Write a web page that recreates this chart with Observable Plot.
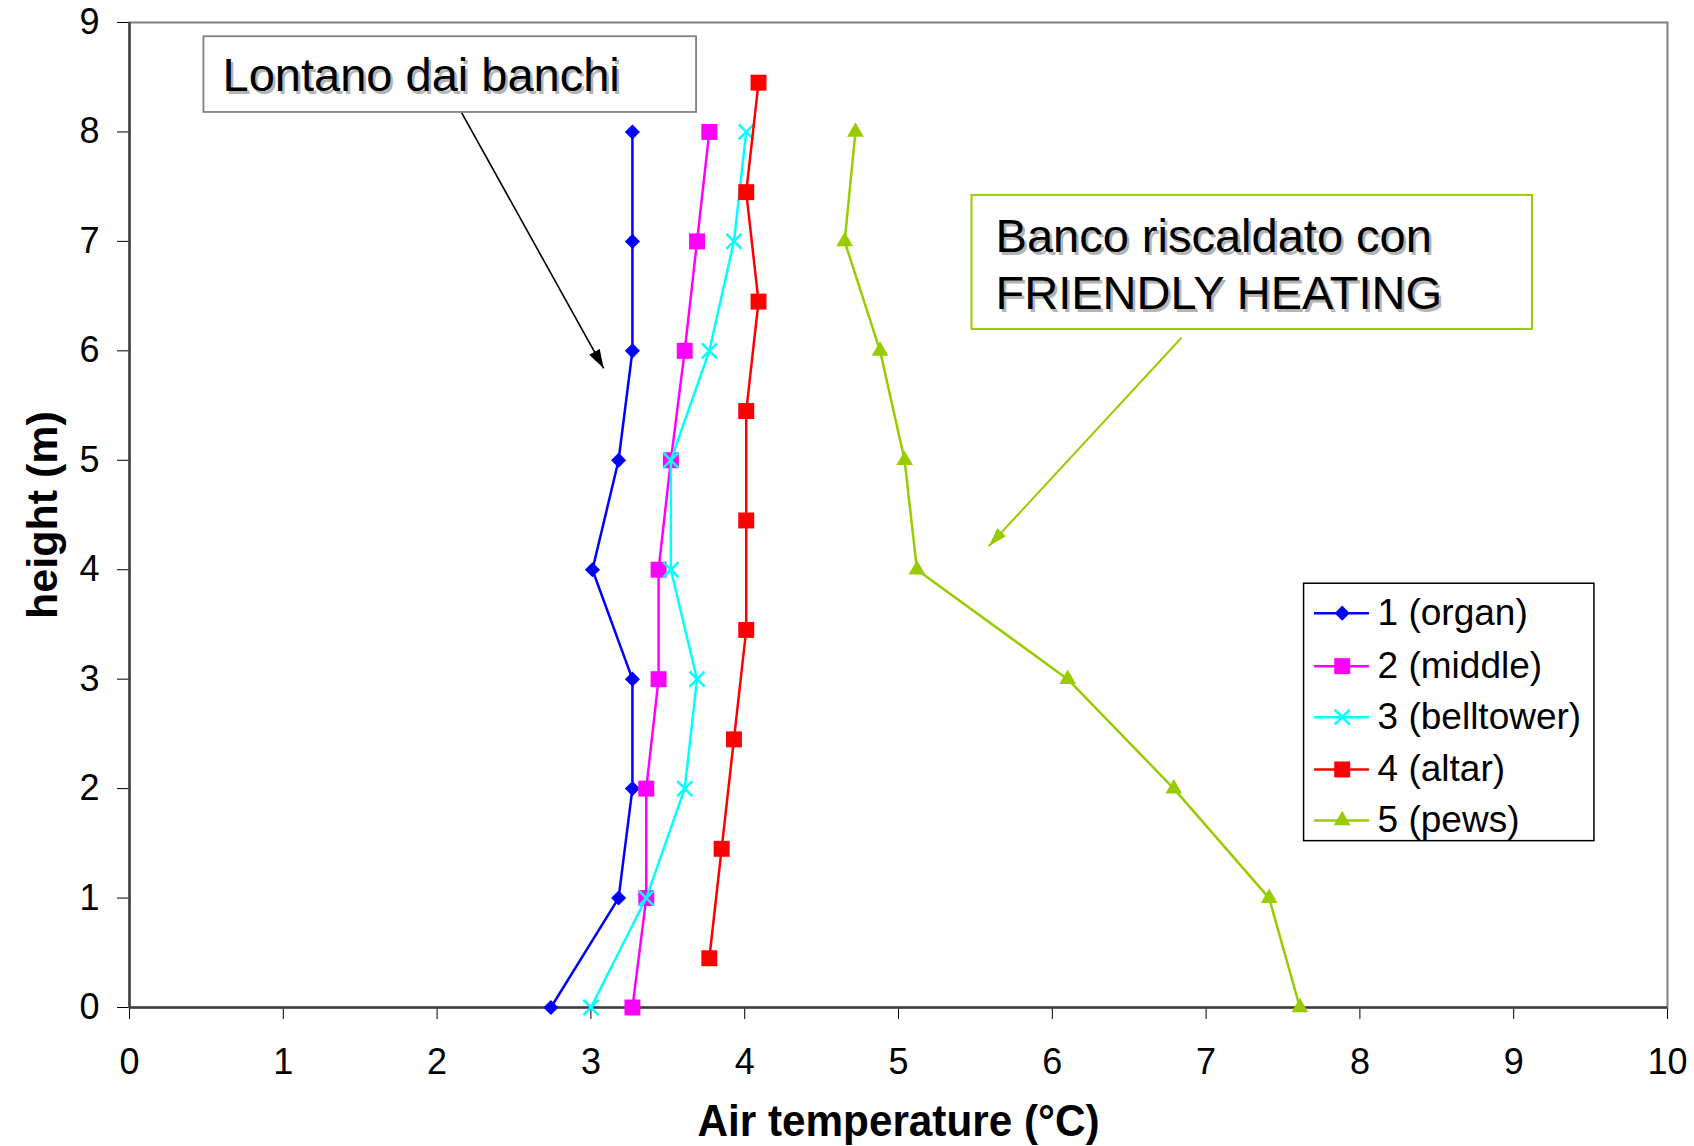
<!DOCTYPE html>
<html>
<head>
<meta charset="utf-8">
<script src="https://cdn.jsdelivr.net/npm/d3@7"></script>
<script src="https://cdn.jsdelivr.net/npm/@observablehq/plot@0.6"></script>
<style>
  html, body { margin: 0; padding: 0; background: #ffffff; }
  #chart { width: 1694px; height: 1146px; }
</style>
</head>
<body>
<div id="chart"></div>
<script>
// ---------------- data ----------------
const heights = [0, 1, 2, 3, 4, 5, 6, 7, 8];
const altarHeights = [0.45, 1.45, 2.45, 3.45, 4.45, 5.45, 6.45, 7.45, 8.45];
const organ = [2.74, 3.18, 3.27, 3.27, 3.01, 3.18, 3.27, 3.27, 3.27];
const middle = [3.27, 3.36, 3.36, 3.44, 3.44, 3.52, 3.61, 3.69, 3.77];
const belltower = [3.00, 3.36, 3.61, 3.69, 3.52, 3.52, 3.77, 3.93, 4.01];
const altar = [3.77, 3.85, 3.93, 4.01, 4.01, 4.01, 4.09, 4.01, 4.09];
const pews = [7.61, 7.41, 6.79, 6.10, 5.12, 5.04, 4.88, 4.65, 4.72];
const seriesNames = ["1 (organ)", "2 (middle)", "3 (belltower)", "4 (altar)", "5 (pews)"];
const xTicks = [0, 1, 2, 3, 4, 5, 6, 7, 8, 9, 10];
const yTicks = [0, 1, 2, 3, 4, 5, 6, 7, 8, 9];
const xTitle = "Air temperature (°C)";
const yTitle = "height (m)";
const note1Text = ["Lontano dai banchi"];
const note2Text = ["Banco riscaldato con", "FRIENDLY HEATING"];

// ---------------- styles / layout ----------------
const FONT = "'Liberation Sans', Arial, Helvetica, sans-serif";
const seriesStyles = [
  {color: "#0000ff", symbol: "diamond2", r: 6.8, filled: true},
  {color: "#ff00ff", symbol: "square", r: 9, filled: true},
  {color: "#00ffff", symbol: "times", r: 6.9, filled: false},
  {color: "#ff0000", symbol: "square", r: 9, filled: true},
  {color: "#99cc00", symbol: "triangle", r: 6.2, filled: true}
];
const seriesValues = [organ, middle, belltower, altar, pews];
const seriesHeights = [heights, heights, heights, altarHeights, heights];

// annotation placement in data units
const note1Box = {x1: 0.484, x2: 3.687, y1: 8.178, y2: 8.87};
const note1Lines = note1Text.map((t) => ({t, x: 0.605, y: 8.374}));
const note2Box = {x1: 5.478, x2: 9.122, y1: 6.195, y2: 7.42};
const note2Lines = note2Text.map((t, i) => ({t, x: 5.631, y: [6.899, 6.378][i]}));
const arrow1 = {x1: 2.16, y1: 8.175, x2: 3.083, y2: 5.84};
const arrow2 = {x1: 6.84, y1: 6.12, x2: 5.587, y2: 4.215};

const legendBox = {x1: 7.637, x2: 9.525, y1: 1.52, y2: 3.872};
const legendRowY = [3.603, 3.119, 2.653, 2.175, 1.709];
const legendRows = seriesNames.map((name, i) => ({
  name, i, y: legendRowY[i], lx1: 7.705, lx2: 8.062, mx: 7.885, tx: 8.115
}));

// axis-title anchors (data units; y title sits left of the frame)
const yTitleAnchor = [{t: yTitle, x: -0.56, y: 4.5}];

// ---------------- table ----------------
const table = seriesNames.flatMap((name, i) =>
  seriesValues[i].map((t, j) => ({series: name, i, t, h: seriesHeights[i][j]}))
);

// ---------------- marks ----------------
const marks = [
  Plot.frame({stroke: "#808080", strokeWidth: 2}),
  Plot.ruleX([0], {stroke: "#404040", strokeWidth: 2.5}),
  Plot.ruleY([0], {stroke: "#404040", strokeWidth: 2.5})
];

seriesNames.forEach((name, i) => {
  const s = seriesStyles[i];
  const d = table.filter(r => r.i === i);
  marks.push(Plot.line(d, {x: "t", y: "h", stroke: s.color, strokeWidth: 2.5}));
  marks.push(Plot.dot(d, s.filled
    ? {x: "t", y: "h", symbol: () => s.symbol, r: s.r, fill: s.color, stroke: "none"}
    : {x: "t", y: "h", symbol: () => s.symbol, r: s.r, fill: "none", stroke: s.color, strokeWidth: 2.5}));
});

// annotation 1
marks.push(Plot.rect([note1Box], {x1: "x1", x2: "x2", y1: "y1", y2: "y2", fill: "white", stroke: "#808080", strokeWidth: 1.8}));
marks.push(Plot.text(note1Lines, {x: "x", y: "y", text: "t", textAnchor: "start", lineAnchor: "bottom", fontSize: 47, fill: "#b4b4b4", dx: 2.5, dy: 2.5}));
marks.push(Plot.text(note1Lines, {x: "x", y: "y", text: "t", textAnchor: "start", lineAnchor: "bottom", fontSize: 47, fill: "black"}));
marks.push(Plot.link([arrow1], {x1: "x1", y1: "y1", x2: "x2", y2: "y2", stroke: "black", strokeWidth: 1.6}));

// annotation 2
marks.push(Plot.rect([note2Box], {x1: "x1", x2: "x2", y1: "y1", y2: "y2", fill: "white", stroke: "#99cc00", strokeWidth: 2}));
marks.push(Plot.text(note2Lines, {x: "x", y: "y", text: "t", textAnchor: "start", lineAnchor: "bottom", fontSize: 47, fill: "#b4b4b4", dx: 2.5, dy: 2.5}));
marks.push(Plot.text(note2Lines, {x: "x", y: "y", text: "t", textAnchor: "start", lineAnchor: "bottom", fontSize: 47, fill: "black"}));
marks.push(Plot.link([arrow2], {x1: "x1", y1: "y1", x2: "x2", y2: "y2", stroke: "#99cc00", strokeWidth: 2}));

// legend
marks.push(Plot.rect([legendBox], {x1: "x1", x2: "x2", y1: "y1", y2: "y2", fill: "white", stroke: "black", strokeWidth: 1.5}));
legendRows.forEach((row) => {
  const s = seriesStyles[row.i];
  marks.push(Plot.ruleY([row], {y: "y", x1: "lx1", x2: "lx2", stroke: s.color, strokeWidth: 2.5}));
  marks.push(Plot.dot([row], s.filled
    ? {x: "mx", y: "y", symbol: () => s.symbol, r: s.r, fill: s.color, stroke: "none"}
    : {x: "mx", y: "y", symbol: () => s.symbol, r: s.r, fill: "none", stroke: s.color, strokeWidth: 2.5}));
});
marks.push(Plot.text(legendRows, {x: "tx", y: "y", text: "name", textAnchor: "start", lineAnchor: "middle", fontSize: 37, fill: "black"}));

// axis titles
marks.push(Plot.text([xTitle], {frameAnchor: "bottom", text: d => d, dy: 128, lineAnchor: "bottom", fontSize: 45, fontWeight: "bold", fill: "black"}));
marks.push(Plot.text(yTitleAnchor, {x: "x", y: "y", text: "t", rotate: -90, textAnchor: "middle", lineAnchor: "middle", fontSize: 43, fontWeight: "bold", fill: "black"}));

const chart = Plot.plot({
  width: 1694,
  height: 1146,
  marginTop: 22,
  marginRight: 27,
  marginBottom: 139,
  marginLeft: 129,
  style: {fontFamily: FONT, fontSize: "36px", color: "black", background: "white", overflow: "visible"},
  x: {domain: [0, 10], ticks: xTicks, tickSize: 12, tickPadding: 29, label: null, tickFormat: d => String(d)},
  y: {domain: [0, 9], ticks: yTicks, tickSize: 12, tickPadding: 18, label: null, tickFormat: d => String(d)},
  marks
});
document.getElementById("chart").append(chart);

// ---------------- post-processing: filled arrowheads, condensed x title ----------------
const svg = d3.select(chart);
const defs = svg.insert("defs", ":first-child");
const headColors = ["black", "#99cc00"];
headColors.forEach((c, i) => {
  defs.append("marker")
    .attr("id", "ahead" + i)
    .attr("viewBox", "0 0 10 10")
    .attr("refX", 10).attr("refY", 5)
    .attr("markerUnits", "userSpaceOnUse")
    .attr("markerWidth", 19).attr("markerHeight", 12)
    .attr("preserveAspectRatio", "none")
    .attr("orient", "auto")
    .append("path").attr("d", "M0,0L10,5L0,10Z").attr("fill", c);
});
svg.selectAll('g[aria-label="link"]').each(function (d, i) {
  d3.select(this).selectAll("path").attr("marker-end", `url(#ahead${i})`);
});
svg.selectAll("text").each(function () {
  if (this.textContent === xTitle) d3.select(this).attr("textLength", 402).attr("lengthAdjust", "spacingAndGlyphs");
});
</script>
</body>
</html>
